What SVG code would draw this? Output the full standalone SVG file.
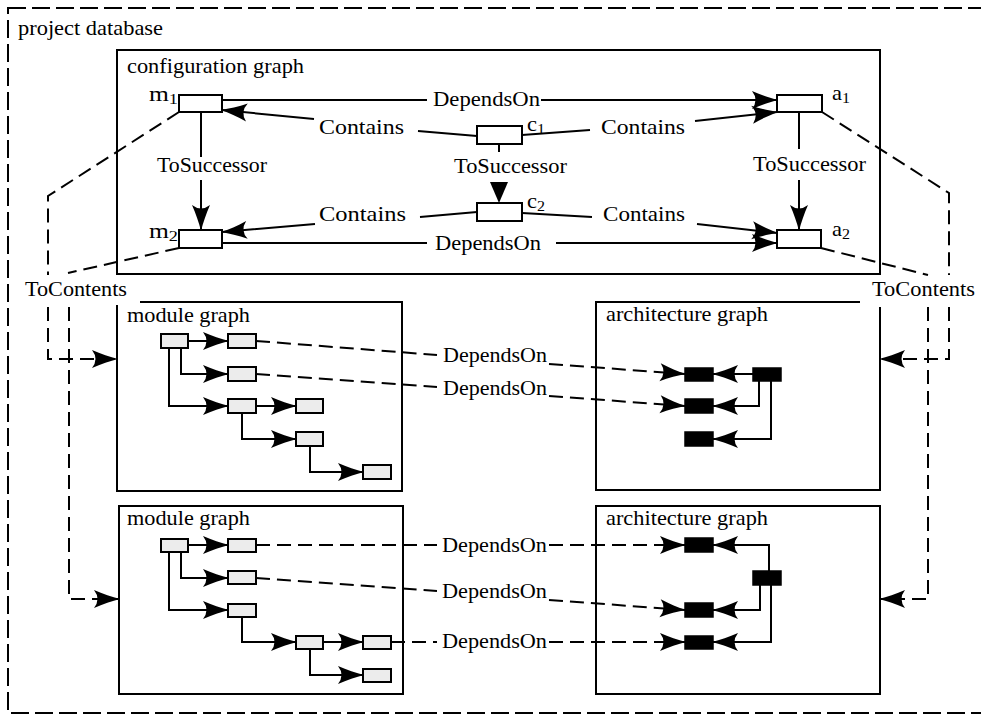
<svg xmlns="http://www.w3.org/2000/svg" width="981" height="715" viewBox="0 0 981 715" font-family="Liberation Serif, Times New Roman, serif">
<style>
text{font-family:"Liberation Serif","Times New Roman",serif;font-size:21px;fill:#000}
.sub{font-size:15px}
.box{fill:none;stroke:#000;stroke-width:2}
.cn{fill:#fff;stroke:#000;stroke-width:2}
.mn{fill:#ececec;stroke:#000;stroke-width:2}
.an{fill:#000;stroke:#000;stroke-width:1.5}
.ln{fill:none;stroke:#000;stroke-width:2}
.dl{fill:none;stroke:#000;stroke-width:2;stroke-dasharray:14 7}
.outer{fill:none;stroke:#000;stroke-width:2;stroke-dasharray:18 6}
</style>
<defs>
<marker id="ah" viewBox="-27 -11 29 22" refX="0" refY="0" markerWidth="29" markerHeight="22" markerUnits="userSpaceOnUse" orient="auto">
<path d="M1,0 C-7,-2 -16,-5 -25,-9 Q-18,0 -25,9 C-16,5 -7,2 1,0 Z" fill="#000"/>
</marker>
</defs>
<rect class="outer" x="8" y="8" width="990" height="705"/>
<text x="18" y="35" textLength="145" lengthAdjust="spacingAndGlyphs">project database</text>

<g id="configuration-graph">
<rect class="box" x="117" y="50" width="763" height="224"/>
<text x="127" y="73" textLength="177" lengthAdjust="spacingAndGlyphs">configuration graph</text>
</g>
<g id="m1"><rect class="cn" x="179" y="95" width="43" height="17"/><text x="149" y="101" textLength="29" lengthAdjust="spacingAndGlyphs">m<tspan class="sub" dy="3">1</tspan></text></g>
<g id="m2"><rect class="cn" x="179" y="230" width="43" height="18"/><text x="149" y="238" textLength="29" lengthAdjust="spacingAndGlyphs">m<tspan class="sub" dy="3">2</tspan></text></g>
<g id="c1"><rect class="cn" x="477" y="126" width="45" height="18"/><text x="527" y="131" textLength="18" lengthAdjust="spacingAndGlyphs">c<tspan class="sub" dy="3">1</tspan></text></g>
<g id="c2"><rect class="cn" x="477" y="203" width="45" height="18"/><text x="527" y="208" textLength="18" lengthAdjust="spacingAndGlyphs">c<tspan class="sub" dy="3">2</tspan></text></g>
<g id="a1"><rect class="cn" x="777" y="95" width="45" height="17"/><text x="832" y="100" textLength="18" lengthAdjust="spacingAndGlyphs">a<tspan class="sub" dy="3">1</tspan></text></g>
<g id="a2"><rect class="cn" x="777" y="230" width="44" height="18"/><text x="832" y="236" textLength="18" lengthAdjust="spacingAndGlyphs">a<tspan class="sub" dy="3">2</tspan></text></g>

<g id="module-graph-1">
<path class="box" d="M140,302 H402 V491 H117 V305"/>
<text x="127" y="322" textLength="123" lengthAdjust="spacingAndGlyphs">module graph</text>
<rect class="mn" x="161" y="334" width="27" height="14"/>
<rect class="mn" x="228" y="334" width="28" height="14"/>
<rect class="mn" x="228" y="367" width="28" height="14"/>
<rect class="mn" x="228" y="399" width="28" height="14"/>
<rect class="mn" x="296" y="399" width="27" height="14"/>
<rect class="mn" x="296" y="432" width="27" height="14"/>
<rect class="mn" x="363" y="465" width="28" height="14"/>
</g>
<g id="architecture-graph-1">
<path class="box" d="M860,302 H596 V490 H880 V307"/>
<text x="606" y="321" textLength="162" lengthAdjust="spacingAndGlyphs">architecture graph</text>
<rect class="an" x="685" y="368" width="28" height="13"/>
<rect class="an" x="685" y="399" width="28" height="14"/>
<rect class="an" x="685" y="432" width="28" height="14"/>
<rect class="an" x="753" y="368" width="28" height="13"/>
</g>
<g id="module-graph-2">
<rect class="box" x="119" y="506" width="284" height="188"/>
<text x="127" y="525" textLength="123" lengthAdjust="spacingAndGlyphs">module graph</text>
<rect class="mn" x="161" y="539" width="27" height="13"/>
<rect class="mn" x="228" y="539" width="28" height="13"/>
<rect class="mn" x="228" y="571" width="28" height="13"/>
<rect class="mn" x="228" y="604" width="28" height="13"/>
<rect class="mn" x="296" y="636" width="27" height="13"/>
<rect class="mn" x="363" y="636" width="28" height="13"/>
<rect class="mn" x="363" y="669" width="28" height="13"/>
</g>
<g id="architecture-graph-2">
<rect class="box" x="596" y="506" width="284" height="188"/>
<text x="606" y="525" textLength="162" lengthAdjust="spacingAndGlyphs">architecture graph</text>
<rect class="an" x="685" y="538" width="28" height="14"/>
<rect class="an" x="753" y="571" width="28" height="14"/>
<rect class="an" x="685" y="603" width="28" height="14"/>
<rect class="an" x="685" y="636" width="28" height="13"/>
</g>

<g id="connectors">
<path class="ln" d="M222,100 H427 M541,100 H777" marker-end="url(#ah)"/>
<text x="433" y="106" textLength="107" lengthAdjust="spacingAndGlyphs">DependsOn</text>
<path class="ln" d="M477,136 L418,131 M314,119 L222,110" marker-end="url(#ah)"/>
<text x="319" y="134" textLength="85" lengthAdjust="spacingAndGlyphs">Contains</text>
<path class="ln" d="M522,135 L590,130 M695,121 L777,112" marker-end="url(#ah)"/>
<text x="601" y="134" textLength="84" lengthAdjust="spacingAndGlyphs">Contains</text>
<path class="ln" d="M201,112 V157 M201,180 V230" marker-end="url(#ah)"/>
<text x="157" y="172" textLength="110" lengthAdjust="spacingAndGlyphs">ToSuccessor</text>
<path class="ln" d="M499,144 V152"/>
<polygon points="490,182 508,182 499,203" fill="#000"/>
<text x="454" y="173" textLength="113" lengthAdjust="spacingAndGlyphs">ToSuccessor</text>
<path class="ln" d="M799,112 V149 M799,180 V230" marker-end="url(#ah)"/>
<text x="753" y="171" textLength="113" lengthAdjust="spacingAndGlyphs">ToSuccessor</text>
<path class="ln" d="M477,212 L420,217 M315,224 L222,232" marker-end="url(#ah)"/>
<text x="319" y="221" textLength="87" lengthAdjust="spacingAndGlyphs">Contains</text>
<path class="ln" d="M522,213 L592,217 M697,224 L777,233" marker-end="url(#ah)"/>
<text x="603" y="221" textLength="82" lengthAdjust="spacingAndGlyphs">Contains</text>
<path class="ln" d="M222,243 H427 M556,243 H777" marker-end="url(#ah)"/>
<text x="435" y="250" textLength="106" lengthAdjust="spacingAndGlyphs">DependsOn</text>

<path class="dl" d="M179,112 L48,196 V275 M48,307 V359 H117" marker-end="url(#ah)"/>
<path class="dl" d="M179,248 L68,273 M69,307 V599 H119" marker-end="url(#ah)"/>
<text x="25" y="296" textLength="102" lengthAdjust="spacingAndGlyphs">ToContents</text>
<path class="dl" d="M822,112 L949,193 V275 M949,307 V359 H880" marker-end="url(#ah)"/>
<path class="dl" d="M821,248 L928,275 M928,307 V599 H880" marker-end="url(#ah)"/>
<text x="872" y="296" textLength="103" lengthAdjust="spacingAndGlyphs">ToContents</text>

<path class="ln" d="M188,341 H228" marker-end="url(#ah)"/>
<path class="ln" d="M181,348 V374 H228" marker-end="url(#ah)"/>
<path class="ln" d="M169,348 V406 H228" marker-end="url(#ah)"/>
<path class="ln" d="M256,406 H296" marker-end="url(#ah)"/>
<path class="ln" d="M242,413 V439 H296" marker-end="url(#ah)"/>
<path class="ln" d="M310,446 V472 H363" marker-end="url(#ah)"/>

<path class="ln" d="M753,374 H713" marker-end="url(#ah)"/>
<path class="ln" d="M759,381 V406 H713" marker-end="url(#ah)"/>
<path class="ln" d="M771,381 V439 H713" marker-end="url(#ah)"/>

<path class="ln" d="M188,545 H228" marker-end="url(#ah)"/>
<path class="ln" d="M181,552 V578 H228" marker-end="url(#ah)"/>
<path class="ln" d="M169,552 V610 H228" marker-end="url(#ah)"/>
<path class="ln" d="M242,617 V642 H296" marker-end="url(#ah)"/>
<path class="ln" d="M323,642 H363" marker-end="url(#ah)"/>
<path class="ln" d="M310,649 V675 H363" marker-end="url(#ah)"/>

<path class="ln" d="M769,571 V545 H713" marker-end="url(#ah)"/>
<path class="ln" d="M760,585 V610 H713" marker-end="url(#ah)"/>
<path class="ln" d="M771,585 V642 H713" marker-end="url(#ah)"/>

<path class="dl" d="M256,341 L437,355 M549,364 L685,374" marker-end="url(#ah)"/>
<text x="443" y="362" textLength="104" lengthAdjust="spacingAndGlyphs">DependsOn</text>
<path class="dl" d="M256,374 L437,387 M549,396 L685,406" marker-end="url(#ah)"/>
<text x="443" y="395" textLength="104" lengthAdjust="spacingAndGlyphs">DependsOn</text>
<path class="dl" d="M256,545 H437 M549,545 H685" marker-end="url(#ah)"/>
<text x="442" y="552" textLength="105" lengthAdjust="spacingAndGlyphs">DependsOn</text>
<path class="dl" d="M256,578 L437,591 M549,600 L685,610" marker-end="url(#ah)"/>
<text x="442" y="598" textLength="105" lengthAdjust="spacingAndGlyphs">DependsOn</text>
<path class="dl" d="M391,642 H437 M549,642 H685" marker-end="url(#ah)"/>
<text x="442" y="648" textLength="105" lengthAdjust="spacingAndGlyphs">DependsOn</text>
</g>
</svg>
